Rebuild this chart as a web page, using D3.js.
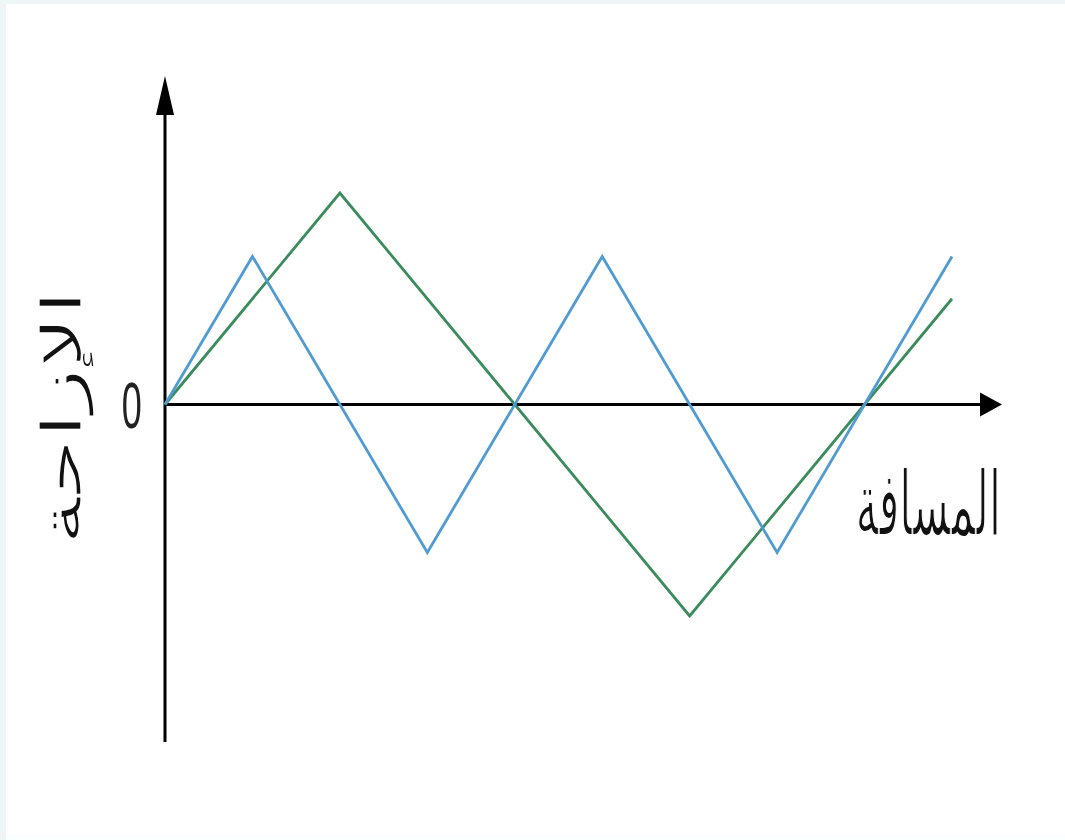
<!DOCTYPE html>
<html>
<head>
<meta charset="utf-8">
<script src="https://cdn.jsdelivr.net/npm/d3@7"></script>
<style>
  body { margin: 0; background: #fff; }
  svg { display: block; }
</style>
</head>
<body>
<div id="chart"></div>
<script>
var width = 1065;
var height = 840;

// distance in quarter periods of the short wave, displacement in units of the tall wave's amplitude
let blueX = [0, 1, 3, 5, 7, 9];
let blueY = [0, 0.7, -0.7, 0.7, -0.7, 0.7];
let greenX = [0, 2, 6, 9];
let greenY = [0, 1, -1, 0.5];
let originLabel = '0';
let xLabel = 'المسافة';
let yLabel = 'الإزاحة';

let svg = d3.select('#chart').append('svg')
    .attr('width', width)
    .attr('height', height);

// faint frame like the scanned page
svg.append('rect').attr('x', 0).attr('y', 0).attr('width', width).attr('height', height).attr('fill', '#fbfefe');
svg.append('rect').attr('x', 6).attr('y', 4).attr('width', width - 6).attr('height', height - 10).attr('fill', '#fff');
svg.append('rect').attr('x', 0).attr('y', 0).attr('width', 6).attr('height', height).attr('fill', '#edf5f5');
svg.append('rect').attr('x', 0).attr('y', 0).attr('width', width).attr('height', 4).attr('fill', '#eef6f6');

let x = d3.scaleLinear().domain([0, 9]).range([165, 952]);
let y = d3.scaleLinear().domain([-1, 1]).range([616, 193]);

let g = svg.append('g');

// axes
g.append('line')
    .attr('x1', x(0)).attr('x2', x(0))
    .attr('y1', 742).attr('y2', 110)
    .attr('stroke', '#000').attr('stroke-width', 3);
g.append('path')
    .attr('d', d3.line()([[x(0) - 9, 115], [x(0), 76], [x(0) + 9, 115]]) + 'Z')
    .attr('fill', '#000');

g.append('line')
    .attr('x1', x(0)).attr('x2', 985)
    .attr('y1', y(0)).attr('y2', y(0))
    .attr('stroke', '#000').attr('stroke-width', 3);
g.append('path')
    .attr('d', d3.line()([[980, y(0) - 12], [1002, y(0)], [980, y(0) + 12]]) + 'Z')
    .attr('fill', '#000');

let line = d3.line().x(d => x(d[0])).y(d => y(d[1]));

g.append('path')
    .datum(greenX.map((d, i) => [d, greenY[i]]))
    .attr('d', line)
    .attr('fill', 'none')
    .attr('stroke', '#3b8c5d')
    .attr('stroke-width', 2.8)
    .attr('stroke-linejoin', 'miter');

g.append('path')
    .datum(blueX.map((d, i) => [d, blueY[i]]))
    .attr('d', line)
    .attr('fill', 'none')
    .attr('stroke', '#4f9bd2')
    .attr('stroke-width', 2.8)
    .attr('stroke-linejoin', 'miter');

// ink box of a string, measured on a canvas (origin at text start, baseline)
let ctx = document.createElement('canvas').getContext('2d');
function inkBox(txt, font, rtl) {
    ctx.font = font;
    ctx.direction = rtl ? 'rtl' : 'ltr';
    ctx.textAlign = 'center';
    let m = ctx.measureText(txt);
    return {
        left: -m.actualBoundingBoxLeft, right: m.actualBoundingBoxRight,
        top: -m.actualBoundingBoxAscent, bottom: m.actualBoundingBoxDescent
    };
}

// squeeze a text so its ink fills a box centred at cx, cy
// thin > 0 eats into the glyphs with a white outline (screen px)
function fitText(txt, family, rtl, cx, cy, w, h, rot, fill, thin) {
    let fs = 60;
    let b = inkBox(txt, fs + 'px "' + family + '"', rtl);
    let bw = b.right - b.left, bh = b.bottom - b.top;
    let sx = w / bw, sy = h / bh;
    let ox = (b.left + b.right) / 2, oy = (b.top + b.bottom) / 2;
    let t = g.append('text')
        .attr('font-family', family)
        .attr('font-size', fs)
        .attr('direction', rtl ? 'rtl' : 'ltr')
        .attr('text-anchor', 'middle')
        .attr('fill', fill)
        .attr('transform', 'translate(' + cx + ',' + cy + ')' + (rot ? ' rotate(' + rot + ')' : '') +
            ' scale(' + sx + ',' + sy + ') translate(' + (-ox) + ',' + (-oy) + ')')
        .text(txt);
    if (thin) {
        t.attr('stroke', '#fff')
            .attr('stroke-width', thin)
            .attr('vector-effect', 'non-scaling-stroke')
            .attr('paint-order', 'fill');
    }
}

fitText(originLabel, 'Liberation Sans', false, 132, 406, 18, 46, 0, '#222', 0);
fitText(xLabel, 'DejaVu Sans', true, 928, 502, 139, 72, 0, '#111', 1.5);
fitText(yLabel, 'DejaVu Sans', true, 67, 418, 242, 56, -90, '#111', 1.8);
</script>
</body>
</html>
